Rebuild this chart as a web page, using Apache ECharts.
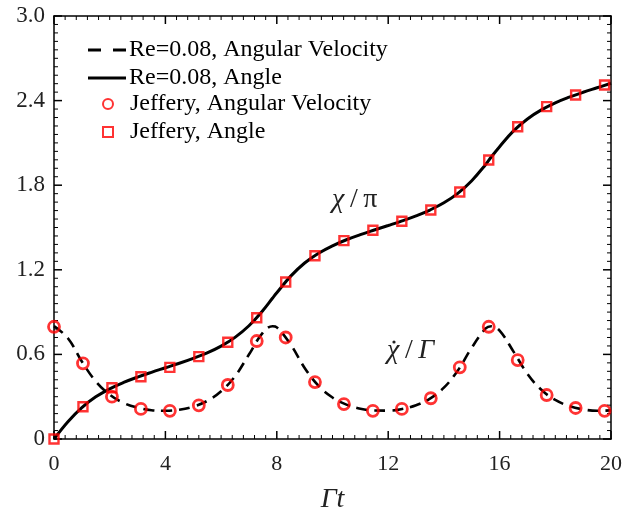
<!DOCTYPE html>
<html><head><meta charset="utf-8">
<script src="https://cdn.jsdelivr.net/npm/echarts@6/dist/echarts.min.js"></script>
<style>html,body{margin:0;padding:0;background:#fff}#c{width:638px;height:510px}</style>
</head><body><div id="c"></div>
<script>
// Re=0.08 simulation curves
const tLine = [0,0.5,1,1.5,2,2.5,3,3.5,4,4.5,5,5.5,6,6.5,7,7.5,7.85,8,8.5,9,9.5,10,10.5,11,11.5,12,12.5,13,13.5,14,14.5,15,15.5,15.7,16,16.5,17,17.5,18,18.5,19,19.5,20];
const omegaRe = [0.800,0.715,0.550,0.409,0.315,0.256,0.222,0.204,0.200,0.208,0.230,0.270,0.338,0.445,0.599,0.755,0.800,0.792,0.669,0.504,0.377,0.294,0.244,0.215,0.202,0.201,0.213,0.239,0.287,0.364,0.486,0.648,0.784,0.800,0.769,0.620,0.462,0.349,0.277,0.234,0.210,0.200,0.203];
const angleRe = [0,0.123,0.223,0.299,0.356,0.401,0.439,0.473,0.505,0.537,0.572,0.611,0.659,0.721,0.803,0.912,1.000,1.037,1.155,1.248,1.317,1.370,1.413,1.449,1.482,1.514,1.547,1.583,1.624,1.675,1.742,1.832,1.947,2.000,2.073,2.185,2.270,2.334,2.384,2.424,2.459,2.491,2.523];
// Jeffery markers
const tJ = [0,1.04,2.08,3.12,4.16,5.2,6.24,7.28,8.32,9.37,10.41,11.45,12.49,13.53,14.57,15.61,16.65,17.69,18.73,19.77];
const omegaJ = [0.796,0.537,0.300,0.213,0.200,0.239,0.383,0.695,0.720,0.404,0.248,0.200,0.213,0.289,0.508,0.796,0.560,0.312,0.220,0.200];
const angleJ = [0,0.229,0.364,0.442,0.508,0.584,0.686,0.860,1.113,1.300,1.407,1.480,1.544,1.624,1.752,1.979,2.215,2.357,2.440,2.511];
const yTickLabels = ['0','0.6','1.2','1.8','2.4','3.0'];
const xTickLabels = ['0','4','8','12','16','20'];

const FONT = 'Liberation Serif';
const X_MAX = 20, Y_MAX = 3, X_STEP = 4, Y_STEP = 0.6, MINOR = 10;
const pair = (xs, ys) => xs.map((x, i) => [x, ys[i]]);

// tick positions on the axes' own scale (major every MINOR-th)
const xTickVals = [], yTickVals = [];
for (let i = 0; i <= 5 * MINOR; i++) {
  xTickVals.push([i * X_STEP / MINOR, i % MINOR === 0 ? 1 : 0]);
  yTickVals.push([i * Y_STEP / MINOR, i % MINOR === 0 ? 1 : 0]);
}

function xAx(pos, showLabel) {
  return {
    type: 'value', min: 0, max: X_MAX, interval: X_STEP, position: pos,
    axisLine: { show: true, onZero: false, lineStyle: { color: '#000', width: 1.5 } },
    axisTick: { show: false }, minorTick: { show: false },
    splitLine: { show: false },
    axisLabel: { show: showLabel, fontFamily: FONT, fontSize: 22, color: '#222', margin: 14,
      formatter: v => xTickLabels[Math.round(v / X_STEP)] },
    name: showLabel ? 'Γt' : '', nameLocation: 'middle', nameGap: 47,
    nameTextStyle: { fontFamily: FONT, fontStyle: 'italic', fontSize: 28, color: '#222' }
  };
}
function yAx(pos, showLabel) {
  return {
    type: 'value', min: 0, max: Y_MAX, interval: Y_STEP, position: pos,
    axisLine: { show: true, onZero: false, lineStyle: { color: '#000', width: 1.5 } },
    axisTick: { show: false }, minorTick: { show: false },
    splitLine: { show: false },
    axisLabel: { show: showLabel, fontFamily: FONT, fontSize: 23, color: '#222', margin: 9,
      formatter: v => yTickLabels[Math.round(v / Y_STEP)] }
  };
}

function tickLine(x1, y1, x2, y2, major) {
  return { type: 'line', shape: { x1, y1, x2, y2 }, style: { stroke: '#000', lineWidth: major ? 1.5 : 1 } };
}
function renderXTicks(params, api) {
  const v = api.value(0), major = api.value(1) === 1, L = major ? 8 : 4;
  const b = api.coord([v, 0]), t = api.coord([v, Y_MAX]);
  return { type: 'group', children: [tickLine(b[0], b[1], b[0], b[1] - L, major), tickLine(t[0], t[1], t[0], t[1] + L, major)] };
}
function renderYTicks(params, api) {
  const v = api.value(1), major = api.value(0) === 1, L = major ? 8 : 4;
  const l = api.coord([0, v]), r = api.coord([X_MAX, v]);
  return { type: 'group', children: [tickLine(l[0], l[1], l[0] + L, l[1], major), tickLine(r[0], r[1], r[0] - L, r[1], major)] };
}

const dashIcon = 'path://M0,0H13V3H0Z M25,0H38V3H25Z';
const solidIcon = 'path://M0,0H38V3H0Z';
const squareIcon = 'path://M0,0H10V10H0Z';

const chart = echarts.init(document.getElementById('c'), null, { renderer: 'canvas' });
chart.setOption({
  animation: false,
  backgroundColor: '#fff',
  grid: { left: 54, right: 27, top: 16, bottom: 71, containLabel: false, outerBoundsMode: 'none' },
  xAxis: [xAx('bottom', true), xAx('top', false)],
  yAxis: [yAx('left', true), yAx('right', false)],
  legend: [
    { data: [{ name: 'Re=0.08, Angular Velocity', icon: dashIcon }, { name: 'Re=0.08, Angle', icon: solidIcon }],
      orient: 'vertical', left: 88, top: 38, symbolKeepAspect: false,
      itemWidth: 38, itemHeight: 3, itemGap: 4, padding: 0,
      itemStyle: { color: '#000', borderWidth: 0 },
      textStyle: { fontFamily: FONT, fontSize: 24, color: '#000', padding: [0, 0, 0, -2] } },
    { data: [{ name: 'Jeffery, Angular Velocity', icon: 'circle' }, { name: 'Jeffery, Angle', icon: squareIcon }],
      orient: 'vertical', left: 102, top: 92, symbolKeepAspect: true,
      itemWidth: 38, itemHeight: 10, itemGap: 4, padding: 0,
      textStyle: { fontFamily: FONT, fontSize: 24, color: '#000', padding: [0, 0, 0, -2] } }
  ],
  graphic: [
    { type: 'text', left: 332, top: 186, style: { text: '{i|χ}{n|\u2009/\u2009π}', rich: {
        i: { fontFamily: FONT, fontStyle: 'italic', fontSize: 28, fill: '#222' },
        n: { fontFamily: FONT, fontSize: 28, fill: '#222' } } } },
    { type: 'text', left: 387, top: 337, style: { text: '{i|χ}{n|\u2009/\u2009}{i|Γ}', rich: {
        i: { fontFamily: FONT, fontStyle: 'italic', fontSize: 28, fill: '#222' },
        n: { fontFamily: FONT, fontSize: 28, fill: '#222' } } } },
    { type: 'circle', shape: { cx: 394, cy: 342, r: 1.6 }, style: { fill: '#222' } }
  ],
  series: [
    { name: 'xTicks', type: 'custom', data: xTickVals, renderItem: renderXTicks, silent: true, clip: false, z: 1 },
    { name: 'yTicks', type: 'custom', data: yTickVals.map(d => [d[1], d[0]]), renderItem: renderYTicks, silent: true, clip: false, z: 1 },
    { name: 'Re=0.08, Angular Velocity', type: 'line', data: pair(tLine, omegaRe), smooth: 0.4,
      symbol: 'none', lineStyle: { color: '#000', width: 2.6, type: [11, 7] }, itemStyle: { color: '#000' }, z: 2 },
    { name: 'Re=0.08, Angle', type: 'line', data: pair(tLine, angleRe), smooth: 0.4,
      symbol: 'none', lineStyle: { color: '#000', width: 3 }, itemStyle: { color: '#000' }, z: 2 },
    { name: 'Jeffery, Angular Velocity', type: 'scatter', data: pair(tJ, omegaJ), symbol: 'circle', symbolSize: 11,
      itemStyle: { color: 'rgba(255,255,255,0)', borderColor: '#f00', borderWidth: 2.8 }, z: 3 },
    { name: 'Jeffery, Angle', type: 'scatter', data: pair(tJ, angleJ), symbol: 'rect', symbolSize: 9,
      itemStyle: { color: 'rgba(255,255,255,0)', borderColor: '#f00', borderWidth: 2.4 }, z: 3 }
  ]
});
</script></body></html>
